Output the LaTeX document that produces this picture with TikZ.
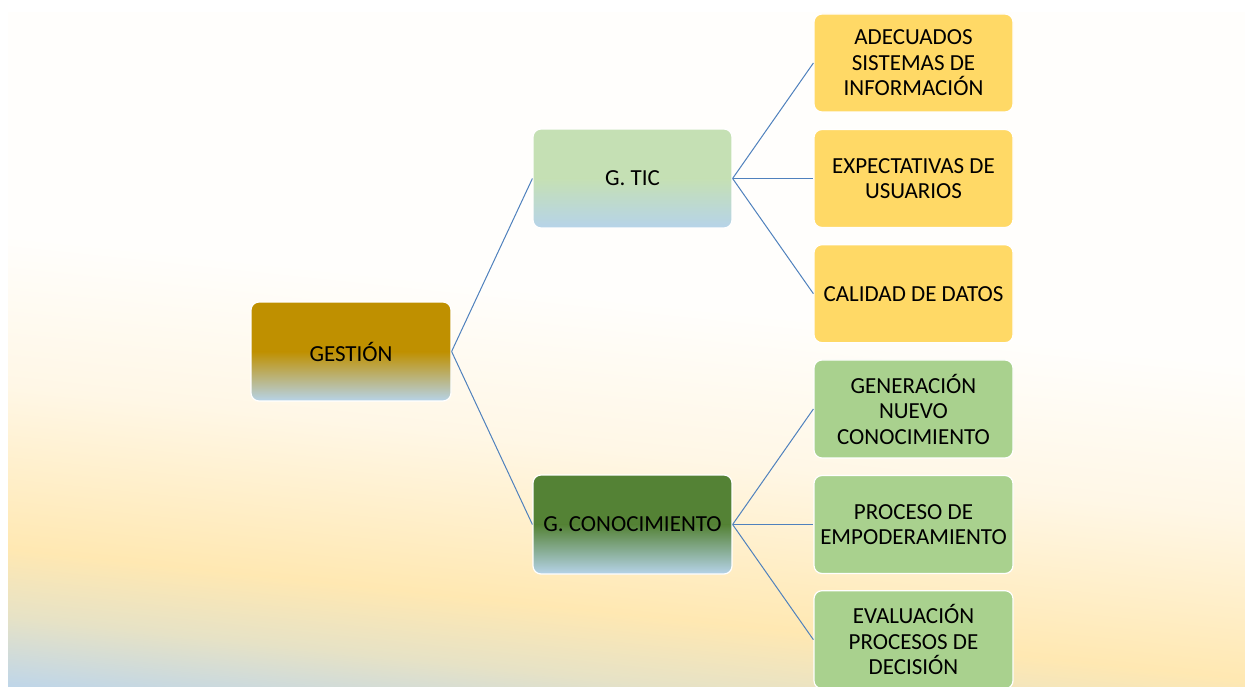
\documentclass[tikz,border=0pt]{standalone}
\usepackage{fontspec}
\setmainfont{Carlito}
\definecolor{goldtop}{HTML}{BF9000}
\definecolor{ticgreen}{HTML}{C5E0B4}
\definecolor{darkgreen}{HTML}{548235}
\definecolor{paleblue}{HTML}{B6D3E9}
\definecolor{leafyellow}{HTML}{FFD966}
\definecolor{leafgreen}{HTML}{A9D18E}
\definecolor{linkblue}{HTML}{4F81BD}
\definecolor{bgA}{HTML}{FFFEFC}
\definecolor{bgB}{HTML}{FFF7E6}
\definecolor{bgC}{HTML}{FFE8B2}
\definecolor{bgD}{HTML}{E6E2C6}
\definecolor{bgE}{HTML}{BDD5EA}
\tikzset{
  box/.style={rectangle, rounded corners=8pt, draw=white, line width=1.2pt,
    minimum width=199pt, minimum height=98pt, align=center, inner sep=2pt,
    font=\fontsize{23}{25.5}\selectfont, text=black},
  fadebox/.style n args={2}{box,
    path picture={
      \fill[#1, sharp corners] (path picture bounding box.north west) rectangle ([yshift=-0.5pt]path picture bounding box.east);
      \shade[top color=#1, bottom color=#2, sharp corners] (path picture bounding box.west) rectangle (path picture bounding box.south east);
    }},
  leafbox/.style={box, fill=#1},
  link/.style={draw=linkblue, line width=1pt}
}
\begin{document}
\begin{tikzpicture}[x=1pt,y=1pt]
\useasboundingbox (0,0) rectangle (1245,686);
\fill[white] (0,0) rectangle (1245,686);
% slide background: tilted bands from white through cream to pale blue
\begin{scope}
  \clip (8,0) rectangle (1245,673);
  \begin{scope}[transform canvas={rotate around={-6:(626,343)}}]
    \fill[bgA] (-700,385.5) rectangle (1950,1300);
    \shade[top color=bgA, bottom color=bgB] (-700,235.5) rectangle (1950,386);
    \shade[top color=bgB, bottom color=bgC] (-700,73.5) rectangle (1950,236);
    \shade[top color=bgC, bottom color=bgD] (-700,5.5) rectangle (1950,74);
    \shade[top color=bgD, bottom color=bgE] (-700,-65.5) rectangle (1950,6);
    \fill[bgE] (-700,-700) rectangle (1950,-65);
  \end{scope}
\end{scope}

% root and branches
\node[fadebox={goldtop}{paleblue}, minimum width=200pt, minimum height=99pt] (root) at (351,334.5) {GESTIÓN};
\node[fadebox={ticgreen}{paleblue}, minimum height=99pt] (tic) at (632.5,507.5) {G. TIC};
\node[fadebox={darkgreen}{paleblue}, minimum height=99pt] (con) at (632.5,161.5) {G. CONOCIMIENTO};

% leaves
\node[leafbox=leafyellow] (r1) at (913.5,623) {ADECUADOS\\SISTEMAS DE\\INFORMACIÓN};
\node[leafbox=leafyellow] (r2) at (913.5,507.5) {EXPECTATIVAS DE\\USUARIOS};
\node[leafbox=leafyellow] (r3) at (913.5,392.3) {CALIDAD DE DATOS};
\node[leafbox=leafgreen] (r4) at (913.5,277) {GENERACIÓN\\NUEVO\\CONOCIMIENTO};
\node[leafbox=leafgreen] (r5) at (913.5,161.5) {PROCESO DE\\EMPODERAMIENTO};
\node[leafbox=leafgreen] (r6) at (913.5,46.3) {EVALUACIÓN\\PROCESOS DE\\DECISIÓN};

% connectors
\draw[link] (root.east) -- (tic.west);
\draw[link] (root.east) -- (con.west);
\foreach \leaf in {r1,r2,r3} \draw[link] (tic.east) -- (\leaf.west);
\foreach \leaf in {r4,r5,r6} \draw[link] (con.east) -- (\leaf.west);
\end{tikzpicture}
\end{document}
